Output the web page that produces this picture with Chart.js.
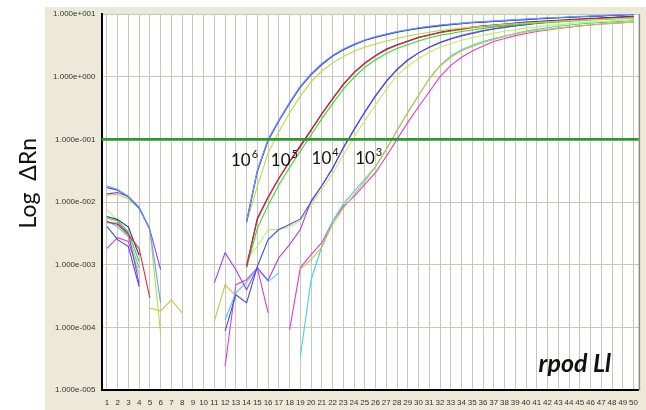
<!DOCTYPE html>
<html>
<head>
<meta charset="utf-8">
<script src="https://cdn.jsdelivr.net/npm/chart.js@4/dist/chart.umd.min.js"></script>
<style>
  html, body { margin: 0; padding: 0; background: #ffffff; }
  #wrap { width: 646px; height: 410px; position: relative; }
</style>
</head>
<body>
<div id="wrap"><canvas id="amp" width="646" height="410"></canvas></div>
<script>
// Amplification plot, rpod Ll standard curve (log10 of ΔRn per cycle; null = no positive ΔRn)
const cycles = [1,2,3,4,5,6,7,8,9,10,11,12,13,14,15,16,17,18,19,20,21,22,23,24,25,26,27,28,29,30,31,32,33,34,35,36,37,38,39,40,41,42,43,44,45,46,47,48,49,50];

const yTicks = [-5, -4, -3, -2, -1, 0, 1];
const yTickLabels = ['1.000e-005', '1.000e-004', '1.000e-003', '1.000e-002', '1.000e-001', '1.000e+000', '1.000e+001'];

const thresholdLog = -1;

// 10^6 copies
const rn6Blue = [
  -1.77, -1.81, -1.92, -2.10, -2.43, null, null, null, null, null,
  null, null, null, -2.30, -1.50, -1.01, -0.70, -0.42, -0.16, 0.04,
  0.20, 0.33, 0.43, 0.51, 0.58, 0.63, 0.67, 0.71, 0.74, 0.77,
  0.79, 0.81, 0.83, 0.845, 0.86, 0.87, 0.88, 0.89, 0.90, 0.91,
  0.92, 0.93, 0.94, 0.945, 0.955, 0.96, 0.97, 0.975, 0.985, 0.99
];
const rn6Purple = [
  -1.87, -1.85, -1.91, -2.08, -2.44, -3.08, null, null, null, null,
  null, null, null, -2.33, -1.52, -1.02, -0.71, -0.43, -0.17, 0.03,
  0.19, 0.33, 0.43, 0.51, 0.58, 0.63, 0.675, 0.715, 0.745, 0.775,
  0.80, 0.82, 0.835, 0.85, 0.865, 0.875, 0.885, 0.895, 0.905, 0.915,
  0.925, 0.935, 0.94, 0.95, 0.955, 0.965, 0.97, 0.98, 0.985, 0.995
];
const rn6Sky = [
  -1.74, -1.80, -1.91, -2.09, -2.44, -3.61, null, null, null, null,
  null, null, null, -2.31, -1.49, -1.00, -0.69, -0.41, -0.15, 0.05,
  0.21, 0.34, 0.44, 0.52, 0.59, 0.64, 0.68, 0.72, 0.75, 0.78,
  0.805, 0.825, 0.84, 0.855, 0.87, 0.88, 0.89, 0.90, 0.91, 0.92,
  0.93, 0.94, 0.945, 0.955, 0.96, 0.97, 0.975, 0.985, 0.99, 1.00
];
const rn6Lime = [
  -1.89, -1.88, -1.95, -2.10, -2.44, -4.09, null, null, null, null,
  null, null, null, -2.32, -1.75, -1.22, -0.88, -0.58, -0.31, -0.08,
  0.09, 0.22, 0.32, 0.41, 0.47, 0.52, 0.57, 0.61, 0.65, 0.68,
  0.71, 0.735, 0.755, 0.775, 0.79, 0.805, 0.82, 0.835, 0.845, 0.855,
  0.865, 0.875, 0.885, 0.895, 0.90, 0.91, 0.915, 0.925, 0.93, 0.94
];

// 10^5 copies
const rn5Red = [
  -2.31, -2.36, -2.52, -2.74, -3.53, null, null, null, null, null,
  null, null, null, -3.03, -2.28, -1.93, -1.63, -1.36, -1.12, -0.86,
  -0.60, -0.36, -0.13, 0.06, 0.21, 0.33, 0.43, 0.50, 0.56, 0.62,
  0.66, 0.70, 0.73, 0.755, 0.78, 0.80, 0.815, 0.83, 0.845, 0.86,
  0.87, 0.88, 0.89, 0.90, 0.91, 0.92, 0.93, 0.935, 0.945, 0.95
];
const rn5Navy = [
  -2.23, -2.28, -2.40, -2.85, null, null, null, null, null, null,
  null, null, null, -3.02, -2.26, -1.92, -1.62, -1.35, -1.10, -0.85,
  -0.59, -0.35, -0.12, 0.07, 0.22, 0.34, 0.44, 0.51, 0.57, 0.63,
  0.67, 0.71, 0.74, 0.765, 0.79, 0.81, 0.825, 0.84, 0.855, 0.87,
  0.88, 0.89, 0.90, 0.91, 0.92, 0.93, 0.935, 0.945, 0.95, 0.96
];
const rn5Green = [
  -2.26, -2.30, -2.48, -2.95, null, null, null, null, null, null,
  null, null, null, -3.05, -2.42, -2.05, -1.73, -1.45, -1.19, -0.93,
  -0.67, -0.43, -0.20, -0.01, 0.15, 0.27, 0.37, 0.45, 0.51, 0.57,
  0.62, 0.66, 0.69, 0.72, 0.745, 0.77, 0.79, 0.81, 0.825, 0.84,
  0.855, 0.865, 0.875, 0.885, 0.895, 0.905, 0.915, 0.92, 0.93, 0.935
];

// 10^4 copies
const rn4Blue = [
  -2.39, -2.60, -2.71, -3.35, null, null, null, null, null, null,
  null, -4.06, -3.48, -3.61, -3.03, -2.60, -2.44, -2.36, -2.27, -2.00,
  -1.74, -1.46, -1.13, -0.84, -0.56, -0.30, -0.07, 0.12, 0.27, 0.38,
  0.47, 0.54, 0.60, 0.65, 0.69, 0.73, 0.76, 0.785, 0.81, 0.83,
  0.85, 0.865, 0.88, 0.895, 0.91, 0.92, 0.935, 0.945, 0.955, 0.96
];
const rn4Purple = [
  -2.33, -2.34, -2.50, -3.30, null, null, null, null, null, null,
  -3.29, -2.81, -3.08, -3.40, -3.05, -3.25, -2.89, -2.68, -2.44, -1.98,
  -1.74, -1.47, -1.14, -0.85, -0.57, -0.31, -0.08, 0.11, 0.26, 0.38,
  0.47, 0.55, 0.61, 0.66, 0.70, 0.735, 0.765, 0.79, 0.815, 0.835,
  0.855, 0.87, 0.885, 0.90, 0.91, 0.925, 0.935, 0.945, 0.955, 0.965
];
const rn4Lime = [
  -2.12, -2.30, -2.50, -3.15, null, null, null, null, null, null,
  null, null, null, -2.90, -2.71, -2.44, -2.44, -2.40, -2.30, -2.05,
  -1.80, -1.55, -1.25, -0.97, -0.70, -0.45, -0.20, 0.02, 0.17, 0.29,
  0.39, 0.47, 0.53, 0.58, 0.62, 0.66, 0.695, 0.725, 0.75, 0.775,
  0.795, 0.815, 0.83, 0.845, 0.86, 0.87, 0.88, 0.89, 0.90, 0.91
];

// 10^3 copies
const rn3Yellow = [
  null, null, null, null, -3.69, -3.74, -3.56, -3.77, null, null,
  -3.90, -3.32, -3.50, null, null, null, null, null, -3.07, -2.92,
  -2.72, -2.36, -2.10, -1.88, -1.67, -1.44, -1.16, -0.86, -0.57, -0.30,
  -0.03, 0.17, 0.31, 0.41, 0.48, 0.54, 0.595, 0.64, 0.68, 0.715,
  0.735, 0.755, 0.775, 0.795, 0.81, 0.825, 0.84, 0.85, 0.86, 0.87
];
const rn3Cyan = [
  -2.30, -2.40, -2.55, -3.05, null, null, null, null, null, null,
  null, -3.88, -3.45, -3.28, -3.05, -3.27, -3.13, null, -4.47, -3.24,
  -2.71, -2.31, -2.03, -1.83, -1.64, -1.43, -1.16, -0.86, -0.57, -0.30,
  -0.03, 0.18, 0.33, 0.43, 0.50, 0.56, 0.61, 0.65, 0.69, 0.73,
  0.755, 0.78, 0.805, 0.825, 0.84, 0.855, 0.865, 0.875, 0.885, 0.895
];
const rn3Magenta = [
  -2.74, -2.57, -2.63, -3.15, null, null, null, null, null, null,
  null, -4.62, -3.32, -3.24, -3.05, -3.77, null, -4.04, -3.05, -2.84,
  -2.65, -2.31, -2.07, -1.91, -1.72, -1.53, -1.27, -1.00, -0.73, -0.48,
  -0.24, 0.00, 0.18, 0.31, 0.41, 0.49, 0.56, 0.61, 0.655, 0.69,
  0.72, 0.745, 0.77, 0.79, 0.81, 0.825, 0.84, 0.85, 0.86, 0.87
];

const wells = [
  { name: '10^6 A', values: rn6Sky,     color: '#5aa6f0' },
  { name: '10^6 B', values: rn6Blue,    color: '#3535f0' },
  { name: '10^6 C', values: rn6Purple,  color: '#9a3cf0' },
  { name: '10^6 D', values: rn6Lime,    color: '#b4dc3c' },
  { name: '10^5 A', values: rn5Red,     color: '#f02828' },
  { name: '10^5 B', values: rn5Navy,    color: '#3a22a8' },
  { name: '10^5 C', values: rn5Green,   color: '#28e028' },
  { name: '10^4 A', values: rn4Blue,    color: '#3c4cf0' },
  { name: '10^4 B', values: rn4Purple,  color: '#a040f0' },
  { name: '10^4 C', values: rn4Lime,    color: '#c0f060' },
  { name: '10^3 A', values: rn3Yellow,  color: '#cec438' },
  { name: '10^3 B', values: rn3Cyan,    color: '#3cd2e4' },
  { name: '10^3 C', values: rn3Magenta, color: '#e03cd8' }
];

// standard-curve annotations: text and the (cycle, log ΔRn) of their baseline start
const copyLabels = [
  { base: '10', exp: '6', cycle: 12.55, log: -1.42 },
  { base: '10', exp: '5', cycle: 16.25, log: -1.42 },
  { base: '10', exp: '4', cycle: 20.05, log: -1.40 },
  { base: '10', exp: '3', cycle: 24.10, log: -1.40 }
];
const targetName = 'rpod Ll';
const yTitle = 'Log  \u0394Rn';

const datasets = [{
  label: 'Threshold',
  data: [{ x: 0.5, y: thresholdLog }, { x: 50.5, y: thresholdLog }],
  borderColor: '#2e982e',
  borderWidth: 2.6,
  pointRadius: 0,
  order: 0
}];
wells.forEach((w, k) => {
  datasets.push({
    label: w.name,
    data: w.values.map((v, i) => ({ x: cycles[i], y: v })),
    borderColor: w.color,
    borderWidth: 1.1,
    pointRadius: 0,
    spanGaps: false,
    order: 1 + k
  });
});

const panelPlugin = {
  id: 'panel',
  beforeDraw(chart) {
    const c = chart.ctx, a = chart.chartArea;
    c.save();
    c.fillStyle = '#ffffff';
    c.fillRect(0, 0, chart.width, chart.height);
    c.fillStyle = '#ece9d8';
    c.fillRect(45, 7, chart.width - 45, chart.height - 7);
    c.fillStyle = '#ffffff';
    c.fillRect(a.left, a.top, a.right - a.left, a.bottom - a.top);
    c.restore();
  },
  afterDraw(chart) {
    const c = chart.ctx, a = chart.chartArea;
    const xs = chart.scales.x, ys = chart.scales.y;
    c.save();
    // right frame edge
    c.strokeStyle = '#8c8a80';
    c.lineWidth = 1.5;
    c.beginPath();
    c.moveTo(a.right + 0.5, a.top);
    c.lineTo(a.right + 0.5, a.bottom);
    c.stroke();

    // copy-number annotations
    c.fillStyle = '#111111';
    c.textBaseline = 'alphabetic';
    copyLabels.forEach(l => {
      const px = xs.getPixelForValue(l.cycle);
      const py = ys.getPixelForValue(l.log);
      c.font = '17px Lato';
      c.fillText(l.base, px, py);
      const w = c.measureText(l.base).width;
      c.font = '11px Lato';
      c.fillText(l.exp, px + w + 1, py - 8);
    });

    // target name
    c.font = 'italic bold 25px Lato';
    c.textAlign = 'right';
    c.fillText(targetName, a.right - 28, a.bottom - 18);

    // y title
    c.translate(36, ys.getPixelForValue(-1.7));
    c.rotate(-Math.PI / 2);
    c.textAlign = 'center';
    c.font = '23px Lato';
    c.fillText(yTitle, 0, 0);
    c.restore();
  }
};

new Chart(document.getElementById('amp'), {
  type: 'line',
  data: { datasets },
  options: {
    responsive: false,
    animation: false,
    layout: { padding: { top: 14, right: 4, bottom: 0, left: 0 } },
    plugins: { legend: { display: false }, tooltip: { enabled: false } },
    elements: { line: { tension: 0 }, point: { radius: 0 } },
    scales: {
      x: {
        type: 'linear',
        min: 0.5,
        max: 50.5,
        afterBuildTicks: s => { s.ticks = cycles.map(v => ({ value: v })); },
        afterFit: s => { s.height = 20; },
        ticks: {
          autoSkip: false,
          maxRotation: 0,
          padding: 8,
          color: '#333333',
          font: { family: 'Liberation Sans', size: 8 },
          callback: (v, i) => String(cycles[i])
        },
        grid: { color: '#c9c6ba', drawTicks: false },
        border: { color: '#000000', width: 2 }
      },
      y: {
        type: 'linear',
        min: -5,
        max: 1,
        afterBuildTicks: s => { s.ticks = yTicks.map(v => ({ value: v })); },
        afterFit: s => { s.width = 101.5; },
        ticks: {
          padding: 6,
          color: '#333333',
          font: { family: 'Liberation Sans', size: 8 },
          callback: (v, i) => yTickLabels[i]
        },
        grid: { color: '#c9c6ba', drawTicks: false },
        border: { color: '#000000', width: 2 }
      }
    }
  },
  plugins: [panelPlugin]
});
</script>
</body>
</html>
